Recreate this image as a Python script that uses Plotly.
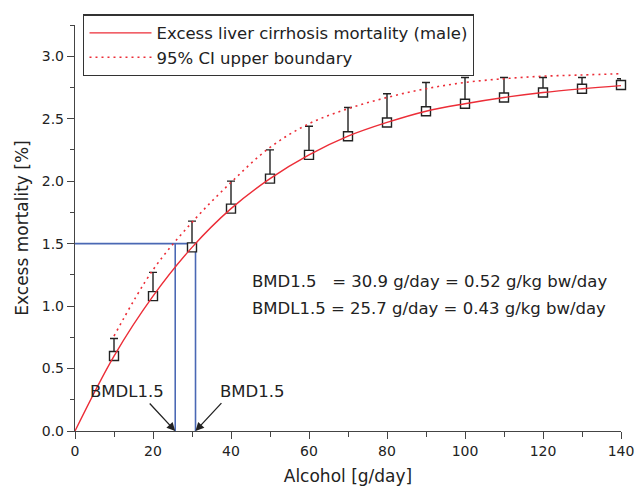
import plotly.graph_objects as go

# ---- data ----
dose = [10, 20, 30, 40, 50, 60, 70, 80, 90, 100, 110, 120, 130, 140]
mortality = [0.60, 1.08, 1.47, 1.78, 2.02, 2.21, 2.36, 2.47, 2.56, 2.62, 2.67, 2.71, 2.74, 2.77]
upper_bar = [0.74, 1.27, 1.68, 2.00, 2.25, 2.44, 2.59, 2.70, 2.79, 2.83, 2.83, 2.83, 2.83, 2.82]

fit_x = [0, 10, 20, 30, 40, 50, 60, 70, 80, 90, 100, 110, 120, 130, 140]
fit_y = [0.0, 0.60, 1.08, 1.47, 1.78, 2.02, 2.21, 2.36, 2.47, 2.56, 2.62, 2.67, 2.71, 2.74, 2.765]

ci_x = [10, 20, 30, 40, 50, 60, 70, 80, 90, 100, 110, 120, 130, 140]
ci_y = [0.76, 1.29, 1.67, 1.99, 2.27, 2.46, 2.58, 2.67, 2.74, 2.79, 2.82, 2.84, 2.85, 2.86]

BMR = 1.5
BMD = 30.9
BMDL = 25.7

x_ticks = [0, 20, 40, 60, 80, 100, 120, 140]
y_ticks = [0.0, 0.5, 1.0, 1.5, 2.0, 2.5, 3.0]

FONT = "DejaVu Sans"
RED = "#ec2d37"
BLUE = "#4a68b4"
INK = "#222222"
AXC = "#444444"

fig = go.Figure()

# BMD construction lines
fig.add_trace(go.Scatter(
    x=[0, BMD, None, BMDL, BMDL, None, BMD, BMD],
    y=[BMR, BMR, None, 0, BMR, None, 0, BMR],
    mode="lines", line=dict(color=BLUE, width=1.6),
    showlegend=False, hoverinfo="skip"))

# data points with upper error bars
fig.add_trace(go.Scatter(
    x=dose, y=mortality, mode="markers",
    marker=dict(symbol="square", size=9, color="white",
                line=dict(color=INK, width=1.4)),
    error_y=dict(type="data", symmetric=False,
                 array=[u - m for u, m in zip(upper_bar, mortality)],
                 arrayminus=[0] * len(dose),
                 color=INK, thickness=1.4, width=4),
    showlegend=False, cliponaxis=False))

fig.add_trace(go.Scatter(
    x=fit_x, y=fit_y, mode="lines", line_shape="spline",
    line=dict(color=RED, width=1.4),
    name="Excess liver cirrhosis mortality (male)"))

fig.add_trace(go.Scatter(
    x=ci_x, y=ci_y, mode="lines", line_shape="spline",
    line=dict(color=RED, width=1.6, dash="2px,4px"),
    name="95% CI upper boundary"))

ann_font = dict(family=FONT, size=16.5, color=INK)
fig.add_annotation(x=BMDL, y=0, xref="x", yref="y", ax=18.8, ay=0.232,
                   axref="x", ayref="y", showarrow=True, arrowhead=2,
                   arrowsize=1.3, arrowwidth=1.3, arrowcolor=INK, text="")
fig.add_annotation(x=BMD, y=0, xref="x", yref="y", ax=37.9, ay=0.235,
                   axref="x", ayref="y", showarrow=True, arrowhead=2,
                   arrowsize=1.3, arrowwidth=1.3, arrowcolor=INK, text="")
fig.add_annotation(x=13.3, y=0.315, xref="x", yref="y", text="BMDL1.5",
                   showarrow=False, font=ann_font)
fig.add_annotation(x=45.6, y=0.315, xref="x", yref="y", text="BMD1.5",
                   showarrow=False, font=ann_font)
fig.add_annotation(x=44.9, y=1.193, xref="x", yref="y", xanchor="left",
                   text="BMD1.5\u00a0\u00a0\u00a0= 30.9 g/day = 0.52 g/kg bw/day",
                   showarrow=False, font=ann_font)
fig.add_annotation(x=44.9, y=0.977, xref="x", yref="y", xanchor="left",
                   text="BMDL1.5 = 25.7 g/day = 0.43 g/kg bw/day",
                   showarrow=False, font=ann_font)

axis_common = dict(
    showgrid=False, zeroline=False, showline=True, linecolor=AXC,
    linewidth=1.4, ticks="outside", tickcolor=AXC, tickwidth=1.3,
    ticklen=7, tickfont=dict(family=FONT, size=14, color=INK),
    title_font=dict(family=FONT, size=17, color=INK))

fig.update_xaxes(range=[0, 140], tickvals=x_ticks, ticktext=[str(v) for v in x_ticks],
                 minor=dict(dtick=10, ticks="outside", ticklen=5, tickcolor=AXC),
                 title_text="Alcohol [g/day]", title_standoff=12, **axis_common)
fig.update_yaxes(range=[0, 3.25], tickvals=y_ticks, ticktext=[f"{v:.1f}" for v in y_ticks],
                 minor=dict(dtick=0.25, ticks="outside", ticklen=4, tickcolor=AXC),
                 title_text="Excess mortality [%]", title_standoff=8, **axis_common)

fig.update_layout(
    width=635, height=488,
    margin=dict(l=75, r=14, t=25, b=57, autoexpand=False),
    plot_bgcolor="white", paper_bgcolor="white",
    font=dict(family=FONT, color=INK),
    legend=dict(x=0.0152, y=1.026, xanchor="left", yanchor="top",
                bgcolor="white", bordercolor="#333333", borderwidth=1.2,
                font=dict(family=FONT, size=16.5, color=INK),
                itemwidth=62, tracegroupgap=0),
)

# remove the default 8px page margin so the figure sits at the window's origin
fig.write_html(
    "out.html",
    config={"displayModeBar": False},
    post_script="document.body.style.margin='0';document.body.style.overflow='hidden';",
)
